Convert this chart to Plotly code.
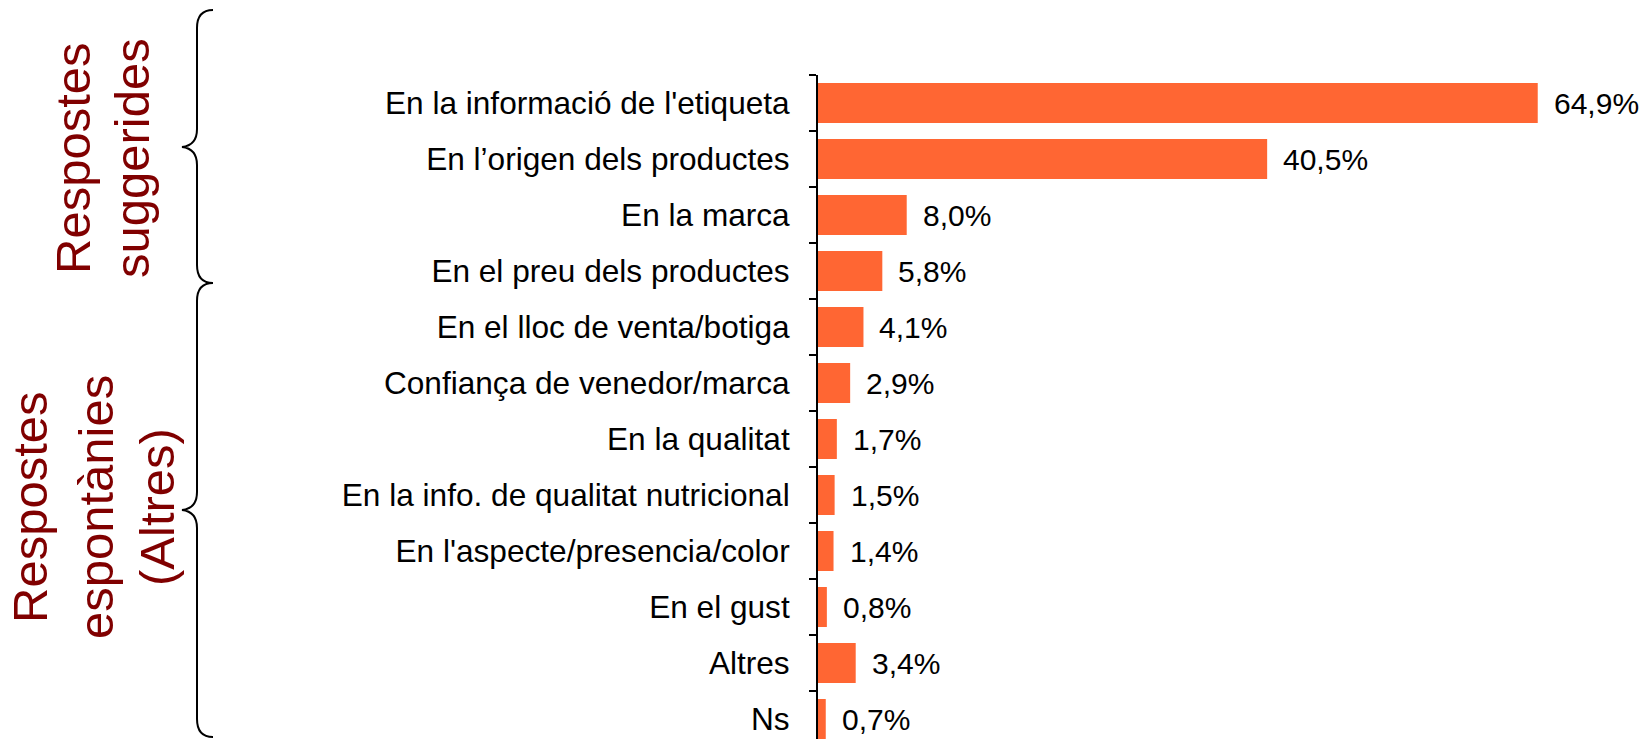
import plotly.graph_objects as go

categories = [
    "En la informació de l'etiqueta",
    "En l’origen dels productes",
    "En la marca",
    "En el preu dels productes",
    "En el lloc de venta/botiga",
    "Confiança de venedor/marca",
    "En la qualitat",
    "En la info. de qualitat nutricional",
    "En l'aspecte/presencia/color",
    "En el gust",
    "Altres",
    "Ns",
]
values = [64.9, 40.5, 8.0, 5.8, 4.1, 2.9, 1.7, 1.5, 1.4, 0.8, 3.4, 0.7]
value_labels = [f"{v:.1f}".replace(".", ",") + "%" for v in values]

group1_lines = ["Respostes", "suggerides"]
group2_lines = ["Respostes", "espontànies", "(Altres)"]

W, H = 1639, 739
ML, MR, MT, MB = 818, 0, 75, 0
PW, PH = W - ML - MR, H - MT - MB

def px(x):
    return (x - ML) / PW

def py(y):
    return 1 - (y - MT) / PH

FONT = "Arial, Liberation Sans, sans-serif"
DARKRED = "#800000"

fig = go.Figure()
fig.add_trace(go.Bar(
    x=values, y=categories, orientation="h",
    marker=dict(color="#FF6633", line=dict(width=0)),
    hoverinfo="x+y",
))

for c, v, t in zip(categories, values, value_labels):
    fig.add_annotation(x=v, y=c, text=t, showarrow=False, xanchor="left",
                       yanchor="middle", xshift=14,
                       font=dict(family=FONT, size=30, color="black"))

def brace(x_end, x_line, x_tip, y_top, y_tip, y_bot):
    r = 18
    pts = [
        f"M {px(x_end)},{py(y_top)}",
        f"C {px(x_line + 5)},{py(y_top)} {px(x_line)},{py(y_top + 6)} {px(x_line)},{py(y_top + r)}",
        f"L {px(x_line)},{py(y_tip - r)}",
        f"C {px(x_line)},{py(y_tip - 6)} {px(x_line - 6)},{py(y_tip - 1)} {px(x_tip)},{py(y_tip)}",
        f"C {px(x_line - 6)},{py(y_tip + 1)} {px(x_line)},{py(y_tip + 6)} {px(x_line)},{py(y_tip + r)}",
        f"L {px(x_line)},{py(y_bot - r)}",
        f"C {px(x_line)},{py(y_bot - 6)} {px(x_line + 5)},{py(y_bot)} {px(x_end)},{py(y_bot)}",
    ]
    return " ".join(pts)

fig.add_shape(type="path", xref="paper", yref="paper",
              path=brace(213, 197, 182, 10, 147, 283),
              line=dict(color="black", width=2))
fig.add_shape(type="path", xref="paper", yref="paper",
              path=brace(213, 197, 182, 283, 510, 737),
              line=dict(color="black", width=2))

for line, xc in zip(group1_lines, [73, 132]):
    fig.add_annotation(x=px(xc), y=py(158), xref="paper", yref="paper",
                       text=line, textangle=-90, showarrow=False,
                       xanchor="center", yanchor="middle",
                       font=dict(family=FONT, size=49, color=DARKRED))
for line, xc in zip(group2_lines, [30, 96, 157]):
    fig.add_annotation(x=px(xc), y=py(507), xref="paper", yref="paper",
                       text=line, textangle=-90, showarrow=False,
                       xanchor="center", yanchor="middle",
                       font=dict(family=FONT, size=49, color=DARKRED))

fig.update_layout(
    width=W, height=H,
    margin=dict(l=ML, r=MR, t=MT, b=MB, pad=0),
    paper_bgcolor="white", plot_bgcolor="white",
    bargap=0.286,
    showlegend=False,
    xaxis=dict(range=[0, PW / 11.09], visible=False, fixedrange=True),
    yaxis=dict(
        type="category",
        categoryorder="array", categoryarray=categories,
        range=[-0.5 + PH / 56.0, -0.5],
        showline=True, linecolor="black", linewidth=2,
        ticks="outside", ticklen=7, tickwidth=2, tickcolor="black",
        tickson="boundaries",
        ticklabelstandoff=20,
        showgrid=False, zeroline=False,
        tickfont=dict(family=FONT, size=31.6, color="black"),
    ),
)

fig.write_html("out.html", config={"displayModeBar": False},
               post_script="document.body.style.margin='0';document.body.style.padding='0';")
